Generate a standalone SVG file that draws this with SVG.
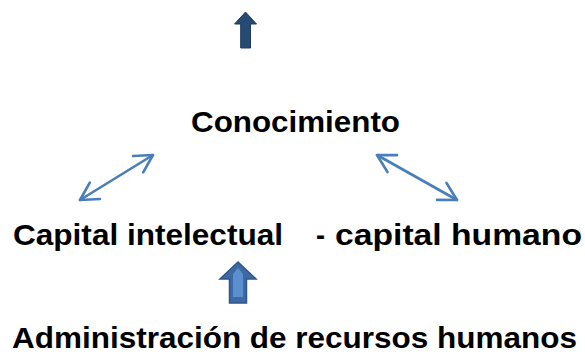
<svg xmlns="http://www.w3.org/2000/svg" width="585" height="354" viewBox="0 0 585 354">
<style>
.t{font-family:"Liberation Sans",Arial,sans-serif;font-weight:bold;font-size:30px;fill:#000}
.c{fill:none;stroke:#4a7ebb;stroke-width:2.6;stroke-linecap:round;stroke-linejoin:round}
</style>
<defs>
<marker id="ch" markerUnits="userSpaceOnUse" markerWidth="30" markerHeight="30" refX="0" refY="0" viewBox="-22 -15 30 30" orient="auto-start-reverse" overflow="visible">
<path d="M-17.5,-9.7 L0,0 L-17.5,9.7" fill="none" stroke="#4a7ebb" stroke-width="2.6" stroke-linecap="round" stroke-linejoin="round"/>
</marker>
</defs>
<g id="top-arrow">
<polygon points="245.5,12 234.5,24 240.7,24 240.7,48 250.5,48 250.5,24 256.5,24" fill="#254a74" stroke="#1f3b5e" stroke-width="1"/>
</g>
<g id="conocimiento"><text class="t" x="191" y="132" textLength="209" lengthAdjust="spacingAndGlyphs">Conocimiento</text></g>
<g id="connectors">
<line class="c" x1="80" y1="200" x2="153" y2="155" marker-start="url(#ch)" marker-end="url(#ch)"/>
<line class="c" x1="377" y1="155" x2="457" y2="200" marker-start="url(#ch)" marker-end="url(#ch)"/>
</g>
<g id="capital">
<text class="t" y="245"><tspan x="13" textLength="270" lengthAdjust="spacingAndGlyphs">Capital intelectual</tspan><tspan x="316" textLength="9" lengthAdjust="spacingAndGlyphs">-</tspan><tspan x="335" textLength="247" lengthAdjust="spacingAndGlyphs">capital humano</tspan></text>
</g>
<g id="bottom-arrow">
<polygon points="238,262 220,279 229.5,279 229.5,303 246.5,303 246.5,279 256,279" fill="#3d6aa3" stroke="#2f568a" stroke-width="1.5"/>
<polygon points="238,268 233,274 233,297 243,297 243,274" fill="#5b8fd0"/>
</g>
<g id="admin"><text class="t" x="12" y="348" textLength="565" lengthAdjust="spacingAndGlyphs">Administración de recursos humanos</text></g>
</svg>
